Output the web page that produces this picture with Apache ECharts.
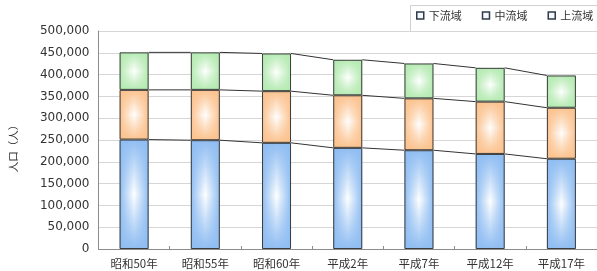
<!DOCTYPE html>
<html><head><meta charset="utf-8">
<script src="https://cdn.jsdelivr.net/npm/echarts@6/dist/echarts.min.js"></script>
<style>html,body{margin:0;padding:0;background:#fff}#c{width:597px;height:271px}</style>
</head><body><div id="c"></div>
<script>
var categories = ['昭和50年','昭和55年','昭和60年','平成2年','平成7年','平成12年','平成17年'];
var downstream = [251000, 249500, 243500, 232000, 226500, 218000, 207000];
var midstream  = [114000, 115500, 118500, 120500, 119000, 120000, 117000];
var upstream   = [86000, 86000, 86500, 81500, 80000, 77500, 74000];
var seriesNames = ['下流域','中流域','上流域'];
var yTicks = [0,50000,100000,150000,200000,250000,300000,350000,400000,450000,500000];

var colors = ['#8fbdf2', '#fbc28e', '#b4eab1'];
var seriesData = [downstream, midstream, upstream];
var BW = 29;

function hex2rgba(h, a){
  var r=parseInt(h.substr(1,2),16), g=parseInt(h.substr(3,2),16), b=parseInt(h.substr(5,2),16);
  return 'rgba('+r+','+g+','+b+','+a+')';
}

var series = [];
seriesData.forEach(function(d, k){
  series.push({
    name: seriesNames[k], type:'bar', stack:'a', barWidth: BW, data: d,
    itemStyle:{ color: new echarts.graphic.LinearGradient(0,0,1,0,[
      {offset:0,color:colors[k]},{offset:0.5,color:'#ffffff'},{offset:1,color:colors[k]}]) },
    emphasis:{disabled:true}, z:2
  });
});
seriesData.forEach(function(d, k){
  series.push({
    name: seriesNames[k]+'_o', type:'bar', stack:'b', barWidth: BW, barGap:'-100%', data: d,
    itemStyle:{ color: new echarts.graphic.LinearGradient(0,0,0,1,[
      {offset:0,color:hex2rgba(colors[k],1)},{offset:0.5,color:hex2rgba(colors[k],0)},{offset:1,color:hex2rgba(colors[k],1)}]),
      borderColor:'#3c3c3c', borderWidth:1 },
    emphasis:{disabled:true}, z:3
  });
});

// series lines connecting stack levels
var cum = [[],[],[]];
for (var i=0;i<categories.length;i++){
  cum[0][i] = downstream[i];
  cum[1][i] = downstream[i]+midstream[i];
  cum[2][i] = downstream[i]+midstream[i]+upstream[i];
}
var lineData = [];
for (var k=0;k<3;k++){
  for (var j=0;j<categories.length-1;j++){
    lineData.push([j, cum[k][j], cum[k][j+1]]);
  }
}
series.push({
  type:'custom', name:'lines', data: lineData, z:5, silent:true,
  renderItem: function(params, api){
    var i = api.value(0);
    var p1 = api.coord([i, api.value(1)]);
    var p2 = api.coord([i+1, api.value(2)]);
    return {type:'line', shape:{x1:p1[0]+BW/2, y1:p1[1], x2:p2[0]-BW/2, y2:p2[1]},
      style:{stroke:'#333', lineWidth:1}};
  }
});

var chart = echarts.init(document.getElementById('c'), null, {renderer:'canvas'});
chart.setOption({
  animation:false,
  textStyle:{fontFamily:'"Noto Sans CJK JP", "DejaVu Sans", sans-serif'},
  graphic:[{type:'rect', left:408, top:3, shape:{x:0,y:0,width:200,height:26},
    style:{fill:'none', stroke:'#d0d0d0', lineWidth:1}, silent:true}],
  legend:{
    data: seriesNames.map(function(n,k){return {name:n, itemStyle:{color:'#f4f7fb', borderColor:'#2f3a4a', borderWidth:1.5}};}),
    left:416, top:10, padding:0, itemGap:20, itemWidth:7, itemHeight:7, icon:'rect',
    textStyle:{fontSize:11, color:'#333', fontFamily:'"Noto Sans CJK JP", sans-serif'}
  },
  grid:{left:97, right:-5, top:31, bottom:22, containLabel:false},
  xAxis:{
    type:'category', data: categories, boundaryGap:true,
    axisLine:{lineStyle:{color:'#8c8c8c'}},
    axisTick:{show:true, inside:true, length:3, lineStyle:{color:'#8c8c8c'}},
    axisLabel:{fontSize:11.5, color:'#333', margin:9, fontFamily:'"Noto Sans CJK JP", sans-serif'}
  },
  yAxis:{
    type:'value', min:yTicks[0], max:yTicks[yTicks.length-1], interval:50000,
    name:'人口（人）', nameLocation:'middle', nameRotate:90, nameGap:80,
    nameTextStyle:{fontSize:10.5, color:'#333', padding:[0,12,0,0], fontFamily:'"Noto Sans CJK JP", sans-serif'},
    axisLine:{show:true, lineStyle:{color:'#8c8c8c'}},
    axisTick:{show:false},
    splitLine:{lineStyle:{color:'#d6d6d6'}},
    axisLabel:{fontSize:12, color:'#333', margin:9, fontFamily:'"DejaVu Sans", sans-serif',
      formatter:function(v){return v.toLocaleString('en-US');}}
  },
  series: series
});
</script>
</body></html>
